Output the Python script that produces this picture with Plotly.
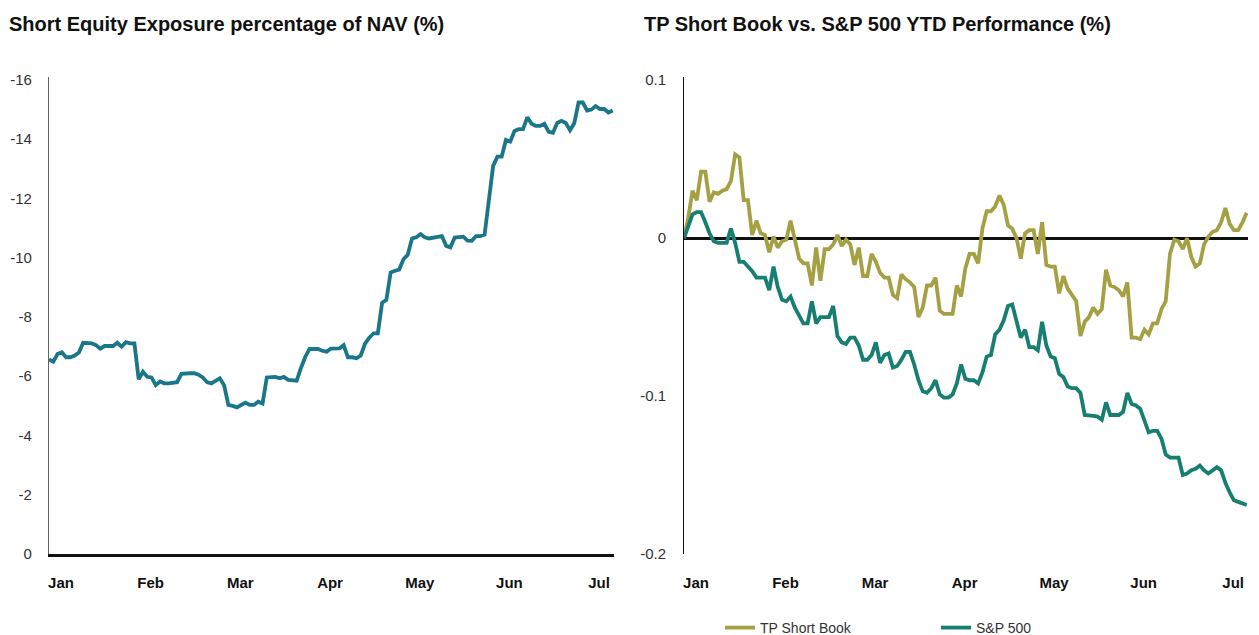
import plotly.graph_objects as go

# ---------------- data ----------------
month_labels = ["Jan", "Feb", "Mar", "Apr", "May", "Jun", "Jul"]
label_step = 21  # trading days between month labels

short_exposure = [
    -6.57, -6.49, -6.75, -6.81, -6.64, -6.64, -6.70, -6.80, -7.13, -7.12,
    -7.11, -7.05, -6.93, -7.02, -7.02, -7.02, -7.13, -7.00, -7.15, -7.11,
    -7.11, -5.90, -6.15, -5.98, -5.96, -5.70, -5.82, -5.76, -5.76, -5.78,
    -5.80, -6.08, -6.10, -6.10, -6.10, -6.05, -5.96, -5.80, -5.76, -5.85,
    -5.93, -5.70, -5.03, -5.00, -4.95, -5.03, -5.11, -5.03, -5.03, -5.14,
    -5.08, -5.96, -5.96, -5.98, -5.93, -5.98, -5.88, -5.85, -5.85, -6.28,
    -6.65, -6.92, -6.92, -6.92, -6.86, -6.83, -6.93, -6.94, -6.94, -7.05,
    -6.64, -6.64, -6.61, -6.70, -7.10, -7.30, -7.45, -7.45, -8.48, -8.58,
    -9.50, -9.56, -9.60, -9.95, -10.10, -10.65, -10.69, -10.80, -10.69, -10.65,
    -10.68, -10.73, -10.73, -10.40, -10.35, -10.68, -10.71, -10.71, -10.58, -10.57,
    -10.73, -10.73, -10.78, -11.90, -13.10, -13.41, -13.41, -13.98, -13.92, -14.28,
    -14.34, -14.34, -14.74, -14.52, -14.45, -14.45, -14.52, -14.25, -14.22, -14.55,
    -14.62, -14.55, -14.30, -14.54, -15.24, -15.24, -14.97, -15.00, -15.12, -15.02,
    -15.02, -14.90, -14.97,
]

tp_short_book = [
    0.000, 0.013, 0.030, 0.024, 0.042, 0.042, 0.023, 0.029, 0.028, 0.030,
    0.031, 0.036, 0.053, 0.051, 0.024, 0.024, 0.002, 0.011, 0.003, 0.002,
    -0.009, 0.001, -0.006, -0.002, -0.001, 0.011, -0.001, -0.013, -0.016, -0.016,
    -0.030, -0.006, -0.027, -0.007, -0.007, -0.004, 0.002, -0.005, -0.001, -0.004,
    -0.017, -0.006, -0.024, -0.024, -0.010, -0.015, -0.022, -0.025, -0.025, -0.036,
    -0.038, -0.023, -0.026, -0.028, -0.031, -0.050, -0.044, -0.030, -0.030, -0.025,
    -0.046, -0.048, -0.048, -0.048, -0.030, -0.037, -0.019, -0.010, -0.010, -0.016,
    0.006, 0.017, 0.017, 0.020, 0.027, 0.021, 0.008, 0.006, 0.000, -0.013,
    0.003, 0.005, 0.005, -0.010, 0.010, -0.017, -0.018, -0.018, -0.035, -0.024,
    -0.032, -0.036, -0.040, -0.062, -0.053, -0.050, -0.044, -0.048, -0.045, -0.020,
    -0.030, -0.031, -0.033, -0.037, -0.028, -0.063, -0.063, -0.064, -0.058, -0.061,
    -0.054, -0.054, -0.045, -0.040, -0.010, -0.001, -0.002, -0.007, 0.000, -0.012,
    -0.018, -0.016, -0.004, 0.001, 0.004, 0.005, 0.010, 0.019, 0.009, 0.005,
    0.005, 0.010, 0.016,
]

sp500 = [
    0.000, 0.007, 0.015, 0.0165, 0.0165, 0.010, 0.003, -0.002, -0.003, -0.003,
    -0.003, 0.006, -0.003, -0.015, -0.015, -0.018, -0.021, -0.025, -0.025, -0.025,
    -0.033, -0.018, -0.031, -0.039, -0.040, -0.037, -0.044, -0.049, -0.054, -0.054,
    -0.040, -0.054, -0.050, -0.050, -0.050, -0.043, -0.062, -0.066, -0.067, -0.063,
    -0.063, -0.068, -0.077, -0.077, -0.074, -0.066, -0.079, -0.074, -0.073, -0.082,
    -0.081, -0.077, -0.072, -0.072, -0.080, -0.090, -0.097, -0.098, -0.095, -0.090,
    -0.099, -0.101, -0.101, -0.099, -0.092, -0.080, -0.089, -0.090, -0.090, -0.092,
    -0.085, -0.075, -0.074, -0.061, -0.058, -0.052, -0.043, -0.042, -0.052, -0.063,
    -0.058, -0.069, -0.069, -0.071, -0.053, -0.068, -0.075, -0.076, -0.086, -0.088,
    -0.094, -0.095, -0.095, -0.098, -0.112, -0.112, -0.1125, -0.113, -0.115, -0.104,
    -0.112, -0.112, -0.112, -0.110, -0.098, -0.105, -0.106, -0.108, -0.115, -0.123,
    -0.122, -0.122, -0.127, -0.137, -0.139, -0.139, -0.139, -0.150, -0.149, -0.147,
    -0.146, -0.144, -0.147, -0.149, -0.147, -0.145, -0.147, -0.155, -0.161, -0.166,
    -0.167, -0.168, -0.169,
]

left_ticks = [0, -2, -4, -6, -8, -10, -12, -14, -16]
right_ticks = [0.1, 0, -0.1, -0.2]

# ---------------- figure ----------------
W, H = 1259, 635
FONT = "Liberation Sans, Arial, sans-serif"

days = list(range(len(short_exposure)))
tick_pos = [i * label_step for i in range(len(month_labels))]

fig = go.Figure()
fig.add_trace(go.Scatter(
    x=days, y=short_exposure, mode="lines", xaxis="x", yaxis="y",
    line=dict(color="#1a768a", width=3.8), showlegend=False,
    name="Short Equity Exposure",
))
fig.add_trace(go.Scatter(
    x=days, y=tp_short_book, mode="lines", xaxis="x2", yaxis="y2",
    line=dict(color="#a6a044", width=3.8), name="TP Short Book",
))
fig.add_trace(go.Scatter(
    x=days, y=sp500, mode="lines", xaxis="x2", yaxis="y2",
    line=dict(color="#177e72", width=3.8), name="S&P 500",
))

def px_x(p):
    return p / W

def px_y(p):
    return 1 - p / H

xcommon = dict(
    range=[0, len(days) - 0.7], tickmode="array", tickvals=tick_pos,
    ticktext=month_labels, ticks="", showgrid=False, zeroline=False,
    tickfont=dict(family=FONT, size=15, color="#111111", weight=700),
    ticklabelshift=12, fixedrange=True,
)
fig.update_layout(
    width=W, height=H,
    margin=dict(l=0, r=0, t=0, b=0, autoexpand=False),
    paper_bgcolor="white", plot_bgcolor="white",
    font=dict(family=FONT, size=14, color="#333333"),
    xaxis=dict(domain=[px_x(49), px_x(614)], anchor="y",
               showline=True, linecolor="#111111", linewidth=3,
               ticklabelstandoff=13, **xcommon),
    yaxis=dict(domain=[px_y(554), px_y(77)], anchor="x",
               range=[0, -16.1], tickmode="array", tickvals=left_ticks,
               ticktext=[str(v) for v in left_ticks],
               showline=True, linecolor="#666666", linewidth=1.2,
               showgrid=False, zeroline=False, ticks="",
               tickfont=dict(family=FONT, size=15, color="#333333"),
               ticklabelstandoff=13),
    xaxis2=dict(domain=[px_x(684), px_x(1248)], anchor="y2",
                showline=False, ticklabelstandoff=18, **xcommon),
    yaxis2=dict(domain=[px_y(554), px_y(77)], anchor="x2",
                range=[-0.2, 0.102], tickmode="array", tickvals=right_ticks,
                ticktext=["0.1", "0", "-0.1", "-0.2"],
                showline=True, linecolor="#111111", linewidth=1,
                showgrid=False, zeroline=True, zerolinecolor="#111111",
                zerolinewidth=2.5, ticks="",
                tickfont=dict(family=FONT, size=15, color="#333333"),
                ticklabelstandoff=14),
    legend=dict(orientation="h", x=px_x(720), xanchor="left",
                yref="container", y=px_y(628), yanchor="middle",
                font=dict(family=FONT, size=14, color="#333333"),
                entrywidth=171, entrywidthmode="pixels",
                bgcolor="rgba(0,0,0,0)"),
    annotations=[
        dict(text="<b>Short Equity Exposure percentage of NAV (%)</b>",
             x=px_x(7), y=px_y(24), xref="paper", yref="paper",
             xanchor="left", yanchor="middle", showarrow=False,
             font=dict(family=FONT, size=20, color="#111111")),
        dict(text="<b>TP Short Book vs. S&P 500 YTD Performance (%)</b>",
             x=px_x(642), y=px_y(24), xref="paper", yref="paper",
             xanchor="left", yanchor="middle", showarrow=False,
             font=dict(family=FONT, size=20, color="#111111")),
    ],
)

fig.write_html(
    "out.html",
    post_script="document.body.style.margin='0';"
                "document.body.style.padding='0';"
                "document.body.style.overflow='hidden';",
    config={"displayModeBar": False},
)
